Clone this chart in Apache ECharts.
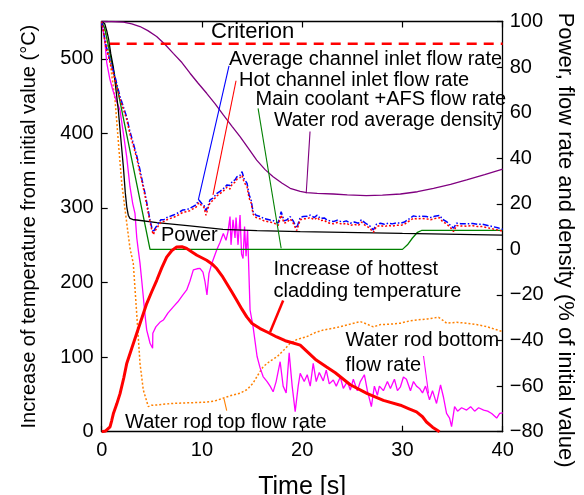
<!DOCTYPE html>
<html><head><meta charset="utf-8">
<script src="https://cdn.jsdelivr.net/npm/echarts@6/dist/echarts.min.js"></script>
<style>html,body{margin:0;padding:0;background:#fff}#c{width:584px;height:495px}</style>
</head><body><div id="c"></div>
<script>
// ---- data (time in s; left axis: temperature increase in degC; right axis: % of initial value)
const criterion = [[0.8,520],[40,520]];
const claddingTemp = [[0,0],[0.4,1],[0.83,6.4],[1.0,15],[1.16,24],[1.5,37],[1.83,51],[2.2,72],[2.49,91],[3.0,112],[3.49,131.6],[4.0,152],[4.49,171.8],[5.0,188],[5.49,203],[6.0,220],[6.48,234],[7.0,243],[7.48,247.7],[8.0,248],[8.48,245.6],[9.0,241],[9.5,236.6],[10.47,229.9],[11.0,225],[11.47,218.8],[12.0,209],[12.47,198.7],[13.0,187],[13.47,176.3],[14.0,164],[14.47,153.9],[15.0,145],[15.8,138.3],[16.6,133],[17.46,127],[18.3,122],[19.1,119],[19.8,116],[20.6,106],[21.4,96],[22.4,87],[23.3,79],[24.8,63],[26.5,51],[28.1,42],[29.8,35.5],[30.6,31],[31.4,26.5],[32.0,20],[32.4,13],[33.0,6],[33.7,0]];
const avgInlet = [[0,100],[0.4,90],[0.83,83],[1.33,75.8],[1.83,67],[2.2,62],[2.5,58],[2.8,52],[3.15,46.6],[3.5,41],[3.82,34.9],[4.1,29],[4.32,24.6],[4.6,18],[4.82,12.9],[5.0,9.5],[5.15,7.5],[5.3,9],[5.6,11],[5.9,13],[6.2,13],[6.5,14],[6.8,14.5],[7.1,15],[7.4,15.5],[7.8,16.5],[8.1,17.3],[8.5,17.5],[8.8,18],[9.1,18.8],[9.4,19.5],[9.7,21.7],[10.0,20],[10.2,19.5],[10.4,17],[10.6,19],[10.8,21.7],[11.1,22.5],[11.5,24.6],[11.8,25.5],[12.1,26.5],[12.5,28.3],[12.8,28],[13.0,29.7],[13.3,30.5],[13.5,31.9],[13.8,32.5],[14.0,34.1],[14.2,31],[14.5,29],[14.7,24],[14.9,21.7],[15.1,16.5],[15.4,15],[15.8,14.4],[16.2,13.5],[16.8,12.9],[17.2,12.5],[17.6,11.5],[17.9,16.5],[18.2,12.5],[18.5,13],[18.8,14.4],[19.1,12.5],[19.45,9.3],[19.8,14],[20.1,14.4],[20.5,14.5],[20.8,15],[21.2,14],[21.5,15],[21.8,13.6],[22.2,13.8],[22.5,12.8],[23.1,12.2],[23.5,12.8],[24.0,12],[24.4,12.5],[24.8,11.5],[25.2,12],[25.6,11.5],[25.9,13],[26.3,11.5],[26.7,10.5],[27.1,8.5],[27.4,11],[27.8,11.5],[28.2,11],[28.6,11.5],[29.0,11.2],[29.4,11.6],[29.8,11.5],[30.2,12],[30.5,12.9],[30.8,13.8],[31.1,14.7],[31.5,14.3],[31.9,14.6],[32.4,14.4],[32.8,14],[33.2,14.5],[33.7,14.9],[34.0,13.2],[34.4,12.2],[34.8,10.5],[35.1,9.3],[35.4,11.5],[35.8,11.3],[36.4,11.2],[37.0,11.4],[37.5,11],[38.0,11],[38.5,10.5],[39.0,10],[39.5,9.5],[40,8.8]];
const hotInlet = [[0,100],[0.4,89],[0.83,82],[1.33,74.5],[1.83,66],[2.2,61],[2.5,57],[2.8,51],[3.15,45.5],[3.5,40],[3.82,33.5],[4.1,28],[4.32,23.5],[4.6,17],[4.82,12],[5.0,8.5],[5.15,6.5],[5.3,8],[5.6,10],[5.9,12],[6.2,12.2],[6.5,13],[6.8,13.5],[7.1,14],[7.4,14.5],[7.8,15.5],[8.1,16.3],[8.5,16.5],[8.8,17],[9.1,17.8],[9.4,18.5],[9.7,20.5],[10.0,19],[10.2,18.5],[10.4,15],[10.6,18],[10.8,20.5],[11.1,21.5],[11.5,23.5],[11.8,24.5],[12.1,25.5],[12.5,27.3],[12.8,26.5],[13.0,28.5],[13.3,29.5],[13.5,30.8],[13.8,31.5],[14.0,32.5],[14.2,29.5],[14.5,27.5],[14.7,22.5],[14.9,20.5],[15.1,15.5],[15.4,14],[15.8,13.4],[16.2,12.5],[16.8,12],[17.2,11.5],[17.6,10.5],[17.9,15],[18.2,11.5],[18.5,12],[18.8,13.4],[19.1,11.5],[19.45,8.3],[19.8,13],[20.1,13.4],[20.5,13.5],[20.8,14],[21.2,13],[21.5,14],[21.8,12.6],[22.2,12.8],[22.5,11.8],[23.1,11.2],[23.5,11.8],[24.0,11],[24.4,11.5],[24.8,10.5],[25.2,11],[25.6,10.5],[25.9,12],[26.3,10.5],[26.7,9.5],[27.1,7.5],[27.4,10],[27.8,10.5],[28.2,10],[28.6,10.5],[29.0,10.2],[29.4,10.6],[29.8,10.5],[30.2,11],[30.5,12],[30.8,12.8],[31.1,13.7],[31.5,13.3],[31.9,13.6],[32.4,13.4],[32.8,13],[33.2,13.5],[33.7,13.9],[34.0,12.2],[34.4,11.2],[34.8,9.5],[35.1,7.8],[35.4,10.5],[35.8,10.3],[36.4,10.2],[37.0,10.4],[37.5,10],[38.0,10],[38.5,9.5],[39.0,9],[39.5,8.5],[40,8]];
const mainCoolant = [[0,100],[0.3,97],[1.66,68.5],[4.82,0],[30,0],[30.5,2],[31,5],[31.5,7.5],[31.9,8.3],[40,8.3]];
const power = [[0,100],[0.3,99],[0.5,96],[0.7,92],[0.9,86],[1.16,80],[1.4,71],[1.66,61],[1.9,49],[2.16,36.3],[2.35,25],[2.5,18.7],[2.65,15],[2.82,13.6],[3.2,13],[3.5,12.9],[5.5,11.7],[8.8,10.3],[12.1,8.8],[15.5,8.2],[19.8,7.8],[30,7],[40,6.3]];
const rodDensity = [[0,100],[1,100],[2.16,99.7],[3.0,99],[3.82,97.8],[4.6,96],[5.48,93.4],[6.3,90],[7.14,86],[8.0,82],[8.81,77.3],[9.6,73],[10.47,68.5],[11.3,64],[12.13,59],[13.0,54],[13.8,49.5],[14.6,44.5],[15.46,39.2],[16.3,35],[17.1,31.9],[18.0,29],[18.8,26.8],[19.8,25.5],[20.45,24.9],[21.5,24.6],[23.1,24.3],[24.5,23.9],[26.4,23.6],[28,23.8],[29.8,24.3],[31.5,25.3],[33.1,26.8],[34.8,28.5],[36.4,30.5],[38.2,32.8],[40,35.2]];
const rodBottom = [[0,100],[0.3,92],[0.5,82],[0.8,75],[1.1,70],[1.4,66],[1.83,61],[2.16,51],[2.49,40.7],[2.82,27.5],[3.1,20],[3.32,15.8],[3.5,5],[3.65,-0.3],[3.82,-6],[4.0,-14],[4.15,-20.8],[4.3,-28],[4.49,-35.4],[4.7,-39],[4.82,-41.2],[5.08,-43.4],[5.1,-36.8],[5.4,-34],[5.8,-32],[6.15,-31],[6.6,-28],[7.14,-25.2],[7.6,-23],[8.1,-20],[8.48,-17.8],[8.8,-14],[9.14,-9],[9.5,-8.5],[9.8,-8.3],[10.1,-10],[10.3,-14],[10.5,-20],[10.7,-10.5],[11.0,-6],[11.47,-0.3],[11.8,3],[12.13,7],[12.4,4],[12.6,7.8],[12.8,14.4],[12.9,2],[13.1,13],[13.3,5],[13.4,14],[13.6,2],[13.8,15.1],[13.95,-2],[14.1,-4],[14.25,10],[14.4,-3],[14.55,8.5],[14.8,-26.6],[15.1,-33.9],[15.5,-47],[15.8,-52],[16.1,-55.8],[16.5,-58],[16.8,-60],[17.1,-62.5],[17.4,-58],[17.8,-49.3],[18.1,-60],[18.4,-63],[18.7,-45.4],[19.0,-60],[19.3,-71.2],[19.6,-60],[19.8,-54.4],[20.2,-58],[20.5,-55],[20.8,-60],[21.1,-50],[21.4,-58],[21.7,-54],[22.1,-57.7],[22.4,-53],[22.7,-59],[23.1,-57.3],[23.4,-60],[23.8,-56],[24.1,-61],[24.5,-58],[24.8,-61.7],[25.1,-57],[25.5,-62],[25.8,-58],[26.2,-55],[26.5,-62],[26.9,-69],[27.2,-60],[27.5,-64],[27.7,-60],[28.1,-62],[28.5,-58],[28.8,-61],[29.2,-57],[29.5,-62],[29.8,-60.3],[30.1,-56],[30.4,-57],[30.8,-62],[31.1,-58],[31.4,-60],[31.7,-61],[32.0,-63],[32.3,-60],[32.7,-66],[33.0,-62],[33.4,-67.6],[33.8,-59.5],[34.1,-65],[34.4,-72],[34.7,-74],[34.9,-77.8],[35.2,-69],[35.5,-71],[35.9,-69.5],[36.4,-70.5],[36.8,-69],[37.2,-71],[37.6,-69.5],[38.1,-70.5],[38.5,-71],[38.9,-72],[39.4,-74],[39.7,-72],[40,-71.7]];
const rodTop = [[0,100],[0.4,95],[0.9,80],[1.33,65.6],[1.7,45],[2.0,29],[2.4,15],[2.82,0.5],[3.15,-6.1],[3.49,-28],[3.82,-50],[4.15,-61.7],[4.65,-69],[4.98,-68.4],[5.48,-68.3],[6.5,-67.8],[7.5,-67.5],[8.8,-67.3],[10.5,-67],[11.3,-66.5],[12.1,-65.3],[13.0,-64],[13.8,-63.1],[14.5,-61.5],[15.1,-58.7],[15.6,-55],[16.1,-51.5],[16.8,-49],[17.5,-47.1],[18.2,-44],[18.8,-41.2],[19.5,-39.5],[20.45,-38.3],[21.3,-36.5],[22.1,-35.4],[23.1,-34.6],[23.8,-33.9],[24.8,-32.8],[25.8,-31.7],[26.3,-32.5],[27.1,-34],[27.8,-33],[28.8,-32.8],[29.8,-32.4],[30.6,-31.5],[31.4,-31],[32.5,-30.5],[33.6,-29.8],[34.0,-31],[34.4,-32.4],[35.4,-32],[36.4,-32.4],[37.4,-33],[38.4,-33.9],[39.2,-35],[40,-36.1]];
// leader lines for the annotations (data units)
const leaderAvg = [[12.7,80.5],[9.64,21.7]];
const leaderHot = [[13.4,74],[11.1,23.9]];
const leaderMain = [[15.6,61.9],[17.9,0.5]];
const leaderDensity = [[20.78,51.7],[20.4,24.6]];
const leaderBottom = [[32.1,-46.8],[32.6,-63.2]];
const leaderTop = [[12.2,-65.6],[12.47,-70.7]];
const leaderClad = [[18.1,176],[16.8,133.8]];
// text
const xName = 'Time [s]';
const yLeftName = 'Increase of temperature from initial value (°C)';
const yRightName = 'Power, flow rate and density (% of initial value)';
const annotations = ['Criterion','Average channel inlet flow rate','Hot channel inlet flow rate','Main coolant +AFS flow rate','Water rod average density','Power','Increase of hottest','cladding temperature','Water rod bottom','flow rate','Water rod top flow rate'];

const SANS = '"Liberation Sans", Arial, sans-serif';
const chart = echarts.init(document.getElementById('c'), null, {renderer:'canvas'});

function line(data, yIdx, color, width, type, z){
  return {type:'line', data, xAxisIndex:0, yAxisIndex:yIdx, showSymbol:false, symbol:'none',
    silent:true, z: z||2, lineStyle:{color, width, type: type||'solid'}, clip:true};
}
const axisLineStyle = {color:'#000', width:1.3};
const minus = v => v < 0 ? '\u2212' + Math.abs(v) : String(v);

// placement of annotation texts: [x, y(center), font size]
const textPlace = [
  [211, 32, 22],
  [229, 59.5, 20],
  [239, 80, 20],
  [255.5, 99.5, 20],
  [274, 120.7, 19.5],
  [161, 235, 20],
  [273.5, 269.5, 20],
  [273.5, 291, 20],
  [345.5, 340, 20],
  [345.5, 365, 20],
  [125, 422, 20]
];

chart.setOption({
  animation:false,
  backgroundColor:'#fff',
  grid:{left:101.7, right:81.3, top:21.5, bottom:63.3, containLabel:false, outerBoundsMode:'none'},
  xAxis:[
    {type:'value', min:0, max:40, interval:10, position:'bottom',
     axisLine:{onZero:false, lineStyle:axisLineStyle},
     axisTick:{inside:true, length:6, lineStyle:{color:'#000', width:1.2}},
     axisLabel:{color:'#000', fontSize:20, margin:9, fontFamily:SANS},
     splitLine:{show:false},
     name:xName, nameLocation:'middle', nameGap:43,
     nameTextStyle:{color:'#000', fontSize:25, fontFamily:SANS}},
    {type:'value', min:0, max:40, interval:10, position:'top',
     axisLine:{onZero:false, lineStyle:axisLineStyle},
     axisTick:{inside:true, length:6, lineStyle:{color:'#000', width:1.2}},
     axisLabel:{show:false}, splitLine:{show:false}}
  ],
  yAxis:[
    {type:'value', min:0, max:550, interval:100, position:'left',
     axisLine:{show:true, onZero:false, lineStyle:axisLineStyle},
     axisTick:{show:true, inside:true, length:6, lineStyle:{color:'#000', width:1.2}},
     axisLabel:{color:'#000', fontSize:20, margin:8, fontFamily:SANS,
       formatter: v => (v % 100 === 0 ? String(v) : '')},
     splitLine:{show:false},
     name:yLeftName, nameLocation:'middle', nameGap:62, nameRotate:90,
     nameTextStyle:{color:'#000', fontSize:20, fontFamily:SANS}},
    {type:'value', min:-80, max:100, interval:20, position:'right',
     axisLine:{show:true, onZero:false, lineStyle:axisLineStyle},
     axisTick:{show:true, inside:true, length:6, lineStyle:{color:'#000', width:1.2}},
     axisLabel:{color:'#000', fontSize:20, margin:7, fontFamily:SANS, formatter: minus},
     splitLine:{show:false},
     name:yRightName, nameLocation:'middle', nameGap:49, nameRotate:-90,
     nameTextStyle:{color:'#000', fontSize:22, fontFamily:SANS, padding:[0,0,0,27]}}
  ],
  graphic: annotations.map((s, i) => ({type:'text', x:textPlace[i][0], y:textPlace[i][1], z:100, silent:true,
    style:{text:s, fontSize:textPlace[i][2], fontFamily:SANS, fill:'#000', verticalAlign:'middle', align:'left'}})),
  series:[
    line(rodDensity, 1, '#800080', 1.3),
    line(rodTop, 1, '#ff8000', 1.5, [2,2]),
    line(rodBottom, 1, '#ff00ff', 1.3),
    line(mainCoolant, 1, '#008000', 1.3),
    line(power, 1, '#000000', 1.3),
    line(avgInlet, 1, '#0000ff', 1.5, [6,2,1.5,2]),
    line(hotInlet, 1, '#ff0000', 1.5, [2,2]),
    line(criterion, 0, '#ff0000', 2.5, [10,7]),
    line(claddingTemp, 0, '#ff0000', 3, 'solid', 5),
    line(leaderAvg, 1, '#0000ff', 1.1),
    line(leaderHot, 1, '#ff0000', 1.1),
    line(leaderMain, 1, '#008000', 1.1),
    line(leaderDensity, 1, '#800080', 1.1),
    line(leaderBottom, 1, '#ff00ff', 1.1),
    line(leaderTop, 1, '#ff8000', 1.1),
    line(leaderClad, 0, '#ff0000', 2.5)
  ]
});
</script></body></html>
